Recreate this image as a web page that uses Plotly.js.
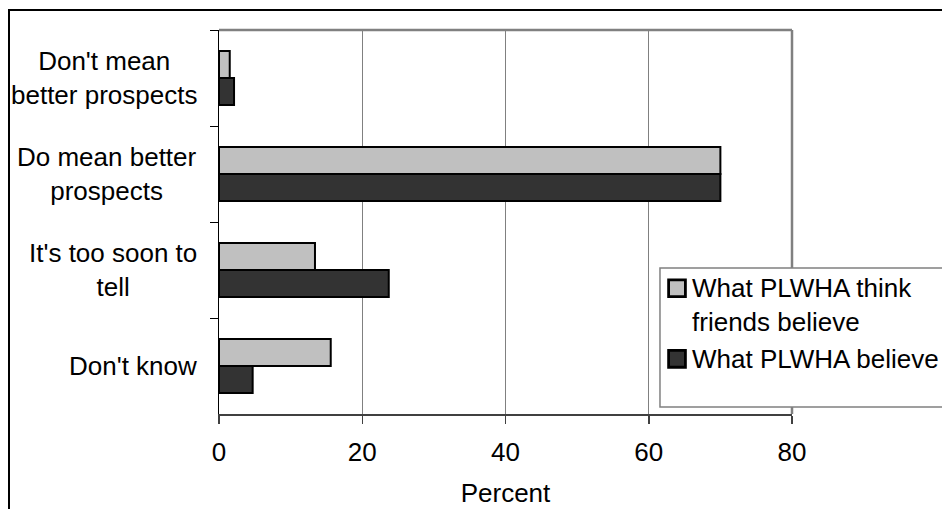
<!DOCTYPE html>
<html><head><meta charset="utf-8">
<script src="https://cdn.plot.ly/plotly-3.0.1.min.js"></script>
<style>
html,body{margin:0;padding:0;overflow:hidden;background:#fff}
#chart{width:942px;height:509px;position:relative}
#frame{position:absolute;left:8px;top:9px;width:1000px;height:600px;border:2px solid #000;pointer-events:none}
</style></head><body>
<div id="chart"></div><div id="frame"></div>
<script>
const categories = ["Don't mean<br>better prospects", "Do mean better<br>prospects", "It's too soon to<br>tell", "Don't know"];
const friendsBelieve = [1.5, 70, 13.4, 15.6];
const plwhaBelieve = [2.1, 70, 23.7, 4.7];
const seriesNames = ["What PLWHA think<br>friends believe", "What PLWHA believe"];
const xTickVals = [0, 20, 40, 60, 80];
const xTitle = "Percent";

const FONT = {family: "'Liberation Sans', Arial, sans-serif", size: 26, color: "#000"};

const traces = [
  {type: "bar", orientation: "h", y: categories, x: friendsBelieve, name: seriesNames[0],
   marker: {color: "#c0c0c0", line: {color: "#000", width: 2}}, hoverinfo: "none"},
  {type: "bar", orientation: "h", y: categories, x: plwhaBelieve, name: seriesNames[1],
   marker: {color: "#333333", line: {color: "#000", width: 2}}, hoverinfo: "none"}
];

const annotations = categories.map(c => ({
  xref: "paper", yref: "y", x: -0.035, y: c, text: c, showarrow: false,
  xanchor: "right", yanchor: "middle", align: "center", font: FONT
}));

const layout = {
  width: 942, height: 509,
  margin: {l: 219, r: 150, t: 30, b: 95, autoexpand: false},
  paper_bgcolor: "#fff", plot_bgcolor: "#fff",
  font: FONT,
  barmode: "group", bargap: 0.44, bargroupgap: 0,
  showlegend: true,
  legend: {x: 0.7557, y: 0.391, xanchor: "left", yanchor: "top", bgcolor: "rgba(0,0,0,0)",
           borderwidth: 0, font: FONT, valign: "top", traceorder: "normal"},
  xaxis: {range: [0, 80], tickvals: xTickVals, showgrid: true, gridcolor: "#808080", gridwidth: 1,
          zeroline: false, showline: true, linecolor: "#404040", linewidth: 2,
          ticks: "outside", ticklen: 8, tickcolor: "#404040", tickwidth: 1.5,
          ticklabelstandoff: 6, tickfont: FONT,
          title: {text: xTitle, font: FONT, standoff: 18}},
  yaxis: {type: "category", autorange: "reversed", showgrid: false, zeroline: false,
          showline: true, linecolor: "#000", linewidth: 1.5,
          ticks: "outside", tickson: "boundaries", ticklen: 8, tickcolor: "#000", tickwidth: 1,
          showticklabels: false},
  annotations: annotations,
  shapes: [
    {type: "line", xref: "paper", yref: "paper", x0: 0, x1: 1, y0: 1, y1: 1, line: {color: "#808080", width: 2.5}, layer: "above"},
    {type: "line", xref: "paper", yref: "paper", x0: 1, x1: 1, y0: 0, y1: 1, line: {color: "#808080", width: 2.5}, layer: "above"},
    {type: "rect", xref: "paper", yref: "paper", x0: 0.7696, x1: 1.35, y0: 0.0182, y1: 0.380,
     fillcolor: "#fff", line: {color: "#808080", width: 1.5}, layer: "above"}
  ]
};

Plotly.newPlot("chart", traces, layout, {displayModeBar: false, staticPlot: true}).then(() => {
  document.querySelectorAll('#chart .legendpoints path').forEach(p => {
    const old = p.getAttribute('transform') || '';
    p.setAttribute('transform', old + ' translate(5,1) scale(1.4)');
  });
});
</script>
</body></html>
